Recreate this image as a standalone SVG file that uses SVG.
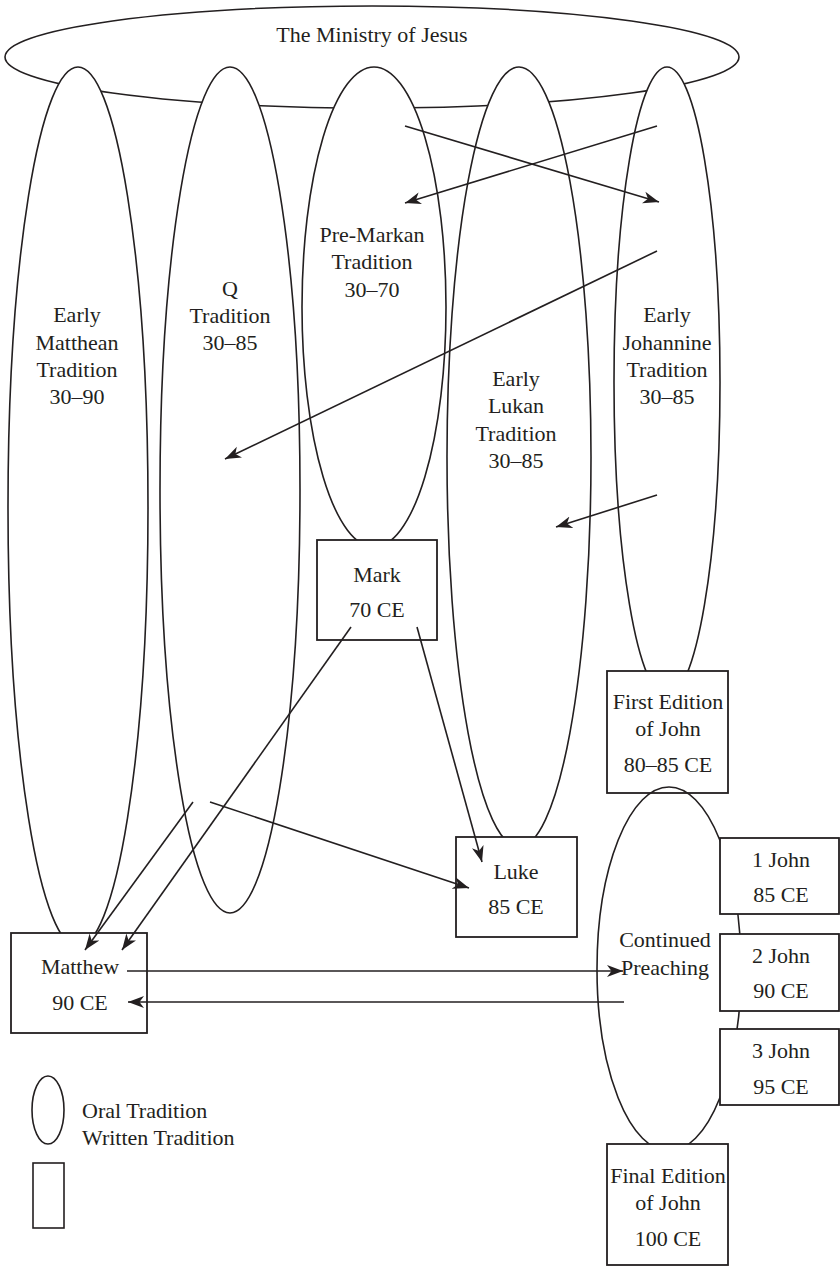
<svg xmlns="http://www.w3.org/2000/svg" width="840" height="1267" viewBox="0 0 840 1267">
<style>
.sh{fill:#fff;stroke:#231f20;stroke-width:1.6}
.nf{fill:none;stroke:#231f20;stroke-width:1.6}
.bx{fill:#fff;stroke:#231f20;stroke-width:1.8}
.t{font-family:"Liberation Serif","Times New Roman",serif;font-size:22px;fill:#231f20;text-anchor:middle}
.l{text-anchor:start}
.c{stroke:#231f20;stroke-width:1.6;fill:none;marker-end:url(#ah)}
</style>
<defs>
<marker id="ah" markerUnits="userSpaceOnUse" markerWidth="18" markerHeight="13" refX="16" refY="6.5" orient="auto">
<path d="M0,0.5 L16,6.5 L0,12.5 L4.5,6.5 z" fill="#231f20"/>
</marker>
</defs>
<rect width="840" height="1267" fill="#fff"/>
<g id="ministry">
<ellipse class="sh" cx="372" cy="57" rx="367" ry="51"/>
<text class="t" x="372" y="42">The Ministry of Jesus</text>
</g>
<g id="early-matthean">
<ellipse class="sh" cx="78" cy="507" rx="70" ry="440"/>
<text class="t" x="77" y="322">Early</text>
<text class="t" x="77" y="350">Matthean</text>
<text class="t" x="77" y="377">Tradition</text>
<text class="t" x="77" y="404">30–90</text>
</g>
<g id="q-tradition">
<ellipse class="sh" cx="230" cy="490" rx="70" ry="423"/>
<text class="t" x="230" y="296">Q</text>
<text class="t" x="230" y="323">Tradition</text>
<text class="t" x="230" y="350">30–85</text>
</g>
<g id="early-lukan">
<ellipse class="sh" cx="519" cy="457" rx="72" ry="390"/>
<text class="t" x="516" y="386">Early</text>
<text class="t" x="516" y="413">Lukan</text>
<text class="t" x="516" y="441">Tradition</text>
<text class="t" x="516" y="468">30–85</text>
</g>
<g id="pre-markan">
<ellipse class="sh" cx="374" cy="307" rx="72" ry="240"/>
<text class="t" x="372" y="242">Pre-Markan</text>
<text class="t" x="372" y="269">Tradition</text>
<text class="t" x="372" y="297">30–70</text>
</g>
<g id="early-johannine">
<ellipse class="sh" cx="667" cy="382" rx="53" ry="315"/>
<text class="t" x="667" y="322">Early</text>
<text class="t" x="667" y="350">Johannine</text>
<text class="t" x="667" y="377">Tradition</text>
<text class="t" x="667" y="404">30–85</text>
</g>
<g id="mark">
<rect class="bx" x="317" y="540" width="120" height="100"/>
<text class="t" x="377" y="582">Mark</text>
<text class="t" x="377" y="617">70 CE</text>
</g>
<g id="first-edition">
<rect class="bx" x="607" y="671" width="121" height="122"/>
<text class="t" x="668" y="709">First Edition</text>
<text class="t" x="668" y="736">of John</text>
<text class="t" x="668" y="772">80–85 CE</text>
</g>
<g id="continued-preaching">
<ellipse class="nf" cx="669" cy="969" rx="72" ry="182"/>
<text class="t" x="665" y="947">Continued</text>
<text class="t" x="665" y="975">Preaching</text>
</g>
<g id="luke">
<rect class="bx" x="456" y="837" width="121" height="100"/>
<text class="t" x="516" y="879">Luke</text>
<text class="t" x="516" y="914">85 CE</text>
</g>
<g id="matthew">
<rect class="bx" x="11" y="933" width="136" height="100"/>
<text class="t" x="80" y="974">Matthew</text>
<text class="t" x="80" y="1010">90 CE</text>
</g>
<g id="john1">
<rect class="bx" x="720" y="838" width="119" height="76"/>
<text class="t" x="781" y="867">1 John</text>
<text class="t" x="781" y="902">85 CE</text>
</g>
<g id="john2">
<rect class="bx" x="720" y="934" width="119" height="77"/>
<text class="t" x="781" y="963">2 John</text>
<text class="t" x="781" y="998">90 CE</text>
</g>
<g id="john3">
<rect class="bx" x="720" y="1029" width="119" height="76"/>
<text class="t" x="781" y="1058">3 John</text>
<text class="t" x="781" y="1094">95 CE</text>
</g>
<g id="final-edition">
<rect class="bx" x="607" y="1144" width="121" height="121"/>
<text class="t" x="668" y="1183">Final Edition</text>
<text class="t" x="668" y="1210">of John</text>
<text class="t" x="668" y="1246">100 CE</text>
</g>
<g id="connectors">
<line class="c" x1="405" y1="126" x2="659" y2="202"/>
<line class="c" x1="657" y1="126" x2="405" y2="203"/>
<line class="c" x1="657" y1="251" x2="225" y2="459"/>
<line class="c" x1="657" y1="495" x2="556" y2="527"/>
<line class="c" x1="351" y1="627" x2="122" y2="950"/>
<line class="c" x1="417" y1="627" x2="482" y2="862"/>
<line class="c" x1="210" y1="802" x2="469" y2="888"/>
<line class="c" x1="193" y1="802" x2="85" y2="950"/>
<line class="c" x1="127" y1="971" x2="623" y2="971"/>
<line class="c" x1="624" y1="1002" x2="128" y2="1002"/>
</g>
<g id="legend">
<ellipse class="nf" cx="48" cy="1110" rx="16" ry="34"/>
<rect class="nf" x="33" y="1163" width="31" height="65"/>
<text class="t l" x="82" y="1118">Oral Tradition</text>
<text class="t l" x="82" y="1145">Written Tradition</text>
</g>
</svg>
